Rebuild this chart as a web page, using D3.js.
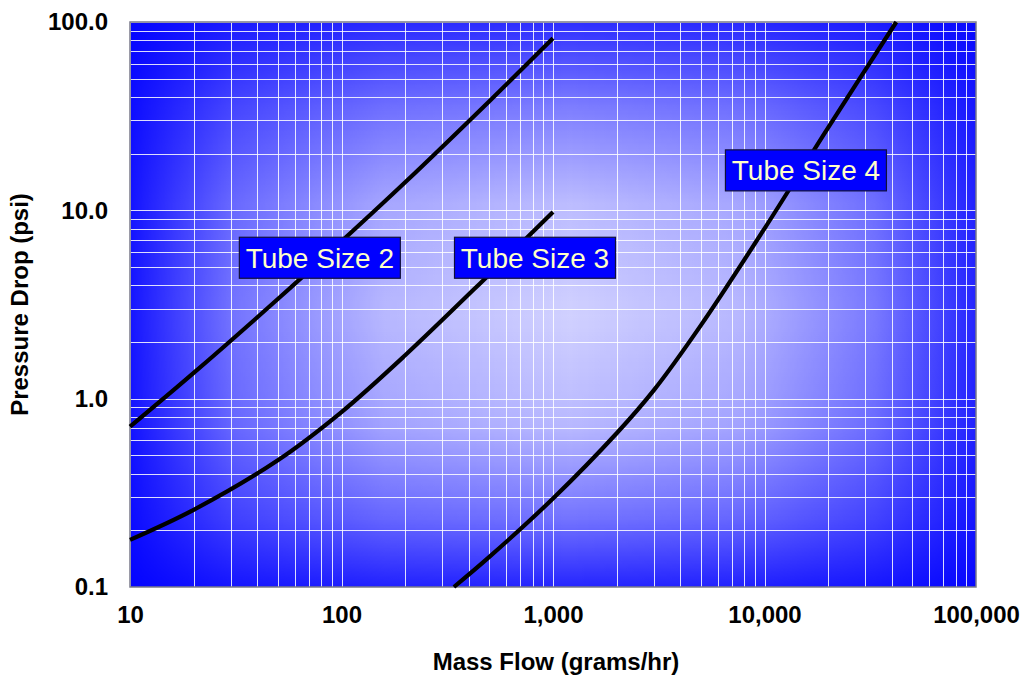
<!DOCTYPE html>
<html>
<head>
<meta charset="utf-8">
<script src="https://cdn.jsdelivr.net/npm/d3@7"></script>
<style>
    body { margin: 0; background: #fff; }
    #chart-area { width: 1025px; height: 677px; }
    text { font-family: Arial, "Liberation Sans", sans-serif; }
</style>
</head>
<body>
<div id="chart-area"></div>
<script>
// mass flow (grams/hr) vs pressure drop (psi)
const tube2Flow = [10, 20, 50, 100, 200, 500, 1000];
const tube2Drop = [0.71, 1.37, 3.38, 6.85, 14.1, 38, 82];

const tube3Flow = [10, 20, 50, 100, 200, 500, 1000];
const tube3Drop = [0.178, 0.257, 0.471, 0.849, 1.70, 4.57, 9.8];

const tube4Flow = [340, 500, 1000, 2000, 3000, 5000, 10000, 20000, 42000];
const tube4Drop = [0.1, 0.1445, 0.295, 0.655, 1.11, 2.45, 8.0, 27.5, 100];

const seriesNames = ["Tube Size 2", "Tube Size 3", "Tube Size 4"];
// label anchors (centre of each label box) in data units
const labelFlow = [79, 822, 15700];
const labelDrop = [5.6, 5.6, 16.3];

const xTicks = [10, 100, 1000, 10000, 100000];
const yTicks = [0.1, 1, 10, 100];

class PressureDropChart {
    constructor(parentElement, series) {
        this.parentElement = parentElement;
        this.series = series;
        this.initVis();
    }

    initVis() {
        let vis = this;

        vis.margin = { top: 22, right: 49, bottom: 90, left: 130 };
        vis.width = 1025 - vis.margin.left - vis.margin.right;
        vis.height = 677 - vis.margin.top - vis.margin.bottom;

        vis.root = d3.select("#" + vis.parentElement).append("svg")
            .attr("width", 1025)
            .attr("height", 677);

        // "from centre" fill: white glow = horizontal profile x vertical profile
        let defs = vis.root.append("defs");
        let gx = defs.append("linearGradient").attr("id", "glow-x")
            .attr("x1", "0").attr("x2", "1").attr("y1", "0").attr("y2", "0");
        [[0, 0.1], [0.12, 0.55], [0.3, 0.88], [0.52, 1], [0.72, 0.88], [0.88, 0.58], [1, 0.18]].forEach(s =>
            gx.append("stop").attr("offset", s[0]).attr("stop-color", "#fff").attr("stop-opacity", s[1]));
        let gy = defs.append("linearGradient").attr("id", "glow-y")
            .attr("x1", "0").attr("x2", "0").attr("y1", "0").attr("y2", "1");
        [[0, 0.22], [0.15, 0.6], [0.32, 0.9], [0.52, 1], [0.72, 0.88], [0.88, 0.55], [1, 0.18]].forEach(s =>
            gy.append("stop").attr("offset", s[0]).attr("stop-color", "#fff").attr("stop-opacity", s[1]));

        vis.x = d3.scaleLog().domain([10, 100000]).range([0, vis.width]);
        vis.y = d3.scaleLog().domain([0.1, 100]).range([vis.height, 0]);

        defs.append("mask").attr("id", "mask-x")
            .attr("maskUnits", "userSpaceOnUse")
            .attr("x", 0).attr("y", 0).attr("width", vis.width).attr("height", vis.height)
            .append("rect").attr("width", vis.width).attr("height", vis.height).attr("fill", "url(#glow-x)");
        defs.append("mask").attr("id", "mask-y")
            .attr("maskUnits", "userSpaceOnUse")
            .attr("x", 0).attr("y", 0).attr("width", vis.width).attr("height", vis.height)
            .append("rect").attr("width", vis.width).attr("height", vis.height).attr("fill", "url(#glow-y)");

        vis.svg = vis.root.append("g")
            .attr("transform", `translate(${vis.margin.left},${vis.margin.top})`);

        // background
        vis.svg.append("rect")
            .attr("width", vis.width)
            .attr("height", vis.height)
            .attr("fill", "#0000ff");

        vis.svg.append("g")
            .attr("mask", "url(#mask-x)")
            .append("rect")
            .attr("width", vis.width)
            .attr("height", vis.height)
            .attr("fill", "#ffffff")
            .attr("fill-opacity", 0.82)
            .attr("mask", "url(#mask-y)");

        // grid, major + minor
        vis.svg.append("g").attr("class", "x-grid")
            .selectAll("line")
            .data(vis.x.ticks())
            .enter().append("line")
            .attr("x1", d => Math.round(vis.x(d)) + 0.5)
            .attr("x2", d => Math.round(vis.x(d)) + 0.5)
            .attr("y1", 0)
            .attr("y2", vis.height)
            .attr("stroke", "#ffffff")
            .attr("stroke-opacity", 0.85);

        vis.svg.append("g").attr("class", "y-grid")
            .selectAll("line")
            .data(vis.y.ticks())
            .enter().append("line")
            .attr("x1", 0)
            .attr("x2", vis.width)
            .attr("y1", d => Math.round(vis.y(d)) + 0.5)
            .attr("y2", d => Math.round(vis.y(d)) + 0.5)
            .attr("stroke", "#ffffff")
            .attr("stroke-opacity", 0.85);

        // border
        vis.svg.append("rect")
            .attr("width", vis.width)
            .attr("height", vis.height)
            .attr("fill", "none")
            .attr("stroke", "#7a7a8a")
            .attr("stroke-width", 1.5);

        // axes (labels only)
        let xAxis = d3.axisBottom(vis.x)
            .tickValues(xTicks)
            .tickFormat(d3.format(","))
            .tickSize(0)
            .tickPadding(19);

        vis.svg.append("g")
            .attr("class", "x-axis")
            .attr("transform", `translate(0, ${vis.height})`)
            .call(xAxis)
            .call(g => g.select(".domain").remove())
            .selectAll("text")
            .style("font-size", "24px")
            .style("font-weight", "bold")
            .style("fill", "#000");

        let yAxis = d3.axisLeft(vis.y)
            .tickValues(yTicks)
            .tickFormat(d3.format(".1f"))
            .tickSize(0)
            .tickPadding(22);

        vis.svg.append("g")
            .attr("class", "y-axis")
            .call(yAxis)
            .call(g => g.select(".domain").remove())
            .selectAll("text")
            .style("font-size", "24px")
            .style("font-weight", "bold")
            .style("fill", "#000");

        // axis titles
        vis.svg.append("text")
            .attr("x", vis.width / 2 + 3)
            .attr("y", vis.height + 83)
            .attr("text-anchor", "middle")
            .style("font-size", "24px")
            .style("font-weight", "bold")
            .text("Mass Flow (grams/hr)");

        vis.svg.append("text")
            .attr("transform", `translate(${-vis.margin.left + 28}, ${vis.height / 2}) rotate(-90)`)
            .attr("text-anchor", "middle")
            .style("font-size", "24px")
            .style("font-weight", "bold")
            .text("Pressure Drop (psi)");

        vis.updateVis();
    }

    updateVis() {
        let vis = this;

        let line = d3.line()
            .x(d => vis.x(d.flow))
            .y(d => vis.y(d.drop))
            .curve(d3.curveCatmullRom.alpha(0.5));

        vis.svg.selectAll(".tube-line")
            .data(vis.series)
            .enter().append("path")
            .attr("class", "tube-line")
            .attr("d", d => line(d.values))
            .attr("fill", "none")
            .attr("stroke", "#000")
            .attr("stroke-width", 4.2);

        // label boxes
        let labels = vis.svg.selectAll(".tube-label")
            .data(vis.series)
            .enter().append("g")
            .attr("class", "tube-label")
            .attr("transform", d => `translate(${vis.x(d.labelFlow)}, ${vis.y(d.labelDrop)})`);

        labels.append("rect")
            .attr("x", -80.5)
            .attr("y", -20.5)
            .attr("width", 161)
            .attr("height", 41)
            .attr("fill", "#0000ff")
            .attr("stroke", "#10103a")
            .attr("stroke-width", 1.2);

        labels.append("text")
            .attr("text-anchor", "middle")
            .attr("y", 10)
            .style("font-size", "28px")
            .style("fill", "#ffffc8")
            .text(d => d.name);
    }
}

let seriesData = [
    { flow: tube2Flow, drop: tube2Drop },
    { flow: tube3Flow, drop: tube3Drop },
    { flow: tube4Flow, drop: tube4Drop }
].map((s, i) => ({
    name: seriesNames[i],
    labelFlow: labelFlow[i],
    labelDrop: labelDrop[i],
    values: s.flow.map((f, j) => ({ flow: f, drop: s.drop[j] }))
}));

let chart = new PressureDropChart("chart-area", seriesData);
</script>
</body>
</html>
